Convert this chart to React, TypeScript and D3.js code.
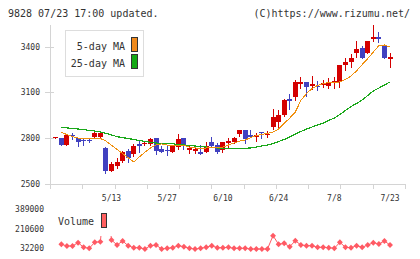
import React, { useEffect, useRef } from 'react';
import * as d3 from 'd3';

// trading days, 4/24 .. 7/23
const dates = [
  '4/24', '4/25', '4/28', '4/30', '5/1', '5/2', '5/7', '5/8', '5/9', '5/12',
  '5/13', '5/14', '5/15', '5/16', '5/19', '5/20', '5/21', '5/22', '5/23', '5/26',
  '5/27', '5/28', '5/29', '5/30', '6/2', '6/3', '6/4', '6/5', '6/6', '6/9',
  '6/10', '6/11', '6/12', '6/13', '6/16', '6/17', '6/18', '6/19', '6/20', '6/23',
  '6/24', '6/25', '6/26', '6/27', '6/30', '7/1', '7/2', '7/3', '7/4', '7/7',
  '7/8', '7/9', '7/10', '7/11', '7/14', '7/15', '7/16', '7/17', '7/18', '7/22',
  '7/23',
];
const dateLabels = ['5/13', '5/27', '6/10', '6/24', '7/8', '7/23'];

const opens = [
  2804, 2801, 2755, 2823, 2801, 2788, 2788, 2810, 2810, 2738,
  2585, 2620, 2652, 2716, 2694, 2760, 2762, 2760, 2803, 2729,
  2725, 2711, 2740, 2799, 2725, 2718, 2711, 2711, 2773, 2755,
  2723, 2771, 2777, 2827, 2853, 2821, 2806, 2840, 2827, 2871,
  2908, 2952, 3056, 3068, 3153, 3168, 3144, 3144, 3148, 3144,
  3163, 3170, 3279, 3297, 3360, 3392, 3355, 3447, 3464, 3405,
  3316,
];
const highs = [
  2806, 2801, 2827, 2834, 2801, 2801, 2797, 2853, 2842, 2744,
  2646, 2668, 2718, 2727, 2762, 2781, 2781, 2799, 2803, 2751,
  2746, 2746, 2827, 2799, 2751, 2755, 2755, 2773, 2806, 2766,
  2777, 2799, 2810, 2853, 2853, 2853, 2832, 2840, 2845, 2989,
  2984, 3056, 3089, 3181, 3198, 3168, 3207, 3174, 3181, 3192,
  3202, 3279, 3323, 3349, 3436, 3405, 3438, 3541, 3497, 3405,
  3355,
];
const lows = [
  2804, 2755, 2755, 2793, 2751, 2757, 2775, 2807, 2808, 2570,
  2585, 2603, 2646, 2646, 2686, 2711, 2755, 2755, 2694, 2707,
  2690, 2711, 2729, 2729, 2701, 2701, 2698, 2707, 2744, 2701,
  2712, 2744, 2771, 2814, 2766, 2806, 2784, 2799, 2810, 2858,
  2858, 2945, 2991, 3050, 3130, 3075, 3122, 3115, 3137, 3130,
  3130, 3137, 3246, 3266, 3333, 3323, 3355, 3438, 3432, 3323,
  3268,
];
const closes = [
  2806, 2755, 2821, 2811, 2777, 2779, 2780, 2832, 2836, 2585,
  2633, 2646, 2707, 2668, 2751, 2751, 2771, 2795, 2718, 2711,
  2716, 2746, 2795, 2755, 2738, 2729, 2698, 2746, 2751, 2707,
  2777, 2784, 2803, 2853, 2793, 2810, 2821, 2836, 2829, 2940,
  2951, 3050, 3045, 3170, 3168, 3137, 3155, 3137, 3159, 3168,
  3174, 3279, 3301, 3327, 3384, 3327, 3438, 3464, 3447, 3323,
  3333,
];
const ma5 = [
  null, 2837, 2824, 2811, 2801, 2798, 2798, 2798, 2798, 2781,
  2753, 2726, 2699, 2672, 2644, 2677, 2709, 2736, 2755, 2762,
  2755, 2749, 2749, 2752, 2742, 2736, 2732, 2736, 2739, 2739,
  2742, 2755, 2768, 2781, 2788, 2804, 2817, 2824, 2831, 2840,
  2860, 2896, 2932, 2971, 3047, 3092, 3125, 3145, 3158, 3164,
  3166, 3168, 3184, 3207, 3240, 3282, 3321, 3364, 3406, 3410,
  3397,
];
const ma25 = [
  null, 2870, 2867, 2863, 2860, 2857, 2850, 2847, 2840, 2832,
  2821, 2810, 2803, 2798, 2791, 2785, 2778, 2773, 2768, 2766,
  2766, 2763, 2759, 2755, 2752, 2749, 2745, 2742, 2739, 2736,
  2734, 2734, 2734, 2734, 2734, 2736, 2742, 2749, 2755, 2765,
  2778, 2791, 2808, 2827, 2844, 2860, 2873, 2886, 2899, 2916,
  2932, 2955, 2981, 3007, 3027, 3050, 3079, 3109, 3128, 3148,
  3168,
];
const volumes = [
  null, 68500, 53100, 53100, 83000, 41300, 32200, 86700, 92100, 600000,
  107600, 62200, 98500, 55800, 37600, 37600, 25800, 55800, 62200, 25800,
  32200, 37600, 55800, 46700, 32200, 25800, 32200, 41300, 55800, 37600,
  37600, 41300, 32200, 32200, 32200, 25800, 25800, 25800, 25800, 146600,
  68500, 77600, 46700, 101200, 62200, 55800, 55800, 41300, 41300, 37600,
  32200, 86700, 41300, 37600, 55800, 41300, 62200, 83000, 71200, 98500,
  62200,
];
const priceTicks = [2500, 2800, 3100, 3400];
const volumeTicks = [32200, 210600, 389000];

const App = () => {
  const svgRef = useRef(null);

  useEffect(() => {
    const W = 420, H = 259;
    const svg = d3.select(svgRef.current)
      .attr('width', W).attr('height', H)
      .html('');
    const font = "'DejaVu Sans Mono', monospace";
    const axisColor = '#d4d4d4';
    const textColor = '#333';
    const up = '#d40000', down = '#4141c0';

    const x = d3.scaleBand().domain(dates).range([53, 392.8]);
    const cx = (d) => x(d) + x.bandwidth() / 2;
    const y = d3.scaleLinear().domain([2500, 3400]).range([184, 46.5]);
    const yv = d3.scaleLinear().domain([32200, 389000]).range([248.3, 209]);

    // header
    svg.append('text').attr('x', 8).attr('y', 17)
      .style('font-family', font).style('font-size', '10px').attr('fill', textColor)
      .text('9828 07/23 17:00 updated.');
    svg.append('text').attr('x', 410).attr('y', 17).attr('text-anchor', 'end')
      .style('font-family', font).style('font-size', '10px').attr('fill', textColor)
      .text('(C)https://www.rizumu.net/');

    // axes
    const ax = svg.append('g').attr('shape-rendering', 'crispEdges');
    ax.append('line').attr('x1', 50.5).attr('x2', 50.5).attr('y1', 25).attr('y2', 189)
      .attr('stroke', axisColor);
    ax.append('line').attr('x1', 45).attr('x2', 405).attr('y1', 184.5).attr('y2', 184.5)
      .attr('stroke', axisColor);
    ax.selectAll('.ytick').data(priceTicks).enter().append('line')
      .attr('x1', 45).attr('x2', 54)
      .attr('y1', d => Math.round(y(d)) + 0.5).attr('y2', d => Math.round(y(d)) + 0.5)
      .attr('stroke', axisColor);
    const gridX = d3.scaleLinear().domain([0, 11]).range([50, 405]);
    ax.selectAll('.xtick').data(d3.range(12)).enter().append('line')
      .attr('x1', d => Math.round(gridX(d)) + 0.5).attr('x2', d => Math.round(gridX(d)) + 0.5)
      .attr('y1', 184).attr('y2', 189)
      .attr('stroke', axisColor);

    svg.selectAll('.ylab').data(priceTicks).enter().append('text')
      .attr('x', 40).attr('y', d => y(d) + 3).attr('text-anchor', 'end')
      .style('font-family', font).style('font-size', '8px').attr('fill', textColor)
      .text(d => d);
    svg.selectAll('.xlab').data(dateLabels).enter().append('text')
      .attr('x', d => cx(d)).attr('y', 201).attr('text-anchor', 'middle')
      .style('font-family', font).style('font-size', '8px').attr('fill', textColor)
      .text(d => d);
    svg.selectAll('.vlab').data(volumeTicks).enter().append('text')
      .attr('x', 44).attr('y', d => yv(d) + 3).attr('text-anchor', 'end')
      .style('font-family', font).style('font-size', '8px').attr('fill', textColor)
      .text(d => d);

    // candles
    const candles = svg.append('g').attr('shape-rendering', 'crispEdges');
    dates.forEach((d, i) => {
      const o = opens[i], c = closes[i];
      const col = c >= o ? up : down;
      const x0 = Math.round(cx(d) - 2.5);
      candles.append('line')
        .attr('x1', x0 + 2.5).attr('x2', x0 + 2.5)
        .attr('y1', Math.round(y(highs[i]))).attr('y2', Math.round(y(lows[i])) + 1)
        .attr('stroke', col);
      const top = Math.round(y(Math.max(o, c)));
      const bot = Math.round(y(Math.min(o, c)));
      candles.append('rect')
        .attr('x', x0).attr('width', 5)
        .attr('y', top).attr('height', Math.max(1, bot - top))
        .attr('fill', col);
    });

    // moving averages
    const maLine = d3.line()
      .defined(d => d != null)
      .x((d, i) => cx(dates[i]))
      .y(d => y(d));
    svg.append('path').datum(ma25).attr('d', maLine)
      .attr('fill', 'none').attr('stroke', '#1aa81a').attr('stroke-width', 1.2)
      .attr('shape-rendering', 'crispEdges');
    svg.append('path').datum(ma5).attr('d', maLine)
      .attr('fill', 'none').attr('stroke', '#f0900f').attr('stroke-width', 1)
      .attr('shape-rendering', 'crispEdges');

    // price legend
    const lg = svg.append('g');
    lg.append('rect').attr('x', 65.5).attr('y', 30.5).attr('width', 78).attr('height', 46)
      .attr('fill', '#fff').attr('stroke', '#ddd');
    [['5-day MA', '#f08a1c', 49.5], ['25-day MA', '#14a814', 66.5]].forEach(([t, c, by]) => {
      lg.append('text').attr('x', 125).attr('y', by).attr('text-anchor', 'end')
        .style('font-family', font).style('font-size', '10px').attr('fill', textColor)
        .text(t);
      lg.append('rect').attr('x', 131.5).attr('y', by - 12).attr('width', 6).attr('height', 14)
        .attr('fill', c).attr('stroke', '#333');
    });

    // volume
    svg.append('clipPath').attr('id', 'vclip')
      .append('rect').attr('x', 45).attr('y', 209).attr('width', 370).attr('height', 50);
    const vg = svg.append('g').attr('clip-path', 'url(#vclip)');
    const vLine = d3.line()
      .defined(d => d != null)
      .x((d, i) => cx(dates[i]))
      .y(d => yv(d));
    vg.append('path').datum(volumes).attr('d', vLine)
      .attr('fill', 'none').attr('stroke', '#ff5a64').attr('stroke-width', 1);
    vg.selectAll('.vpt').data(volumes.map((v, i) => ({ v, d: dates[i] })).filter(p => p.v != null))
      .enter().append('path')
      .attr('d', d3.symbol().type(d3.symbolDiamond2).size(22))
      .attr('transform', p => `translate(${cx(p.d)},${yv(p.v)})`)
      .attr('fill', '#ff5a64');

    svg.append('rect').attr('x', 55).attr('y', 206).attr('width', 57).attr('height', 30)
      .attr('fill', '#fff');
    svg.append('text').attr('x', 58).attr('y', 225)
      .style('font-family', font).style('font-size', '10px').attr('fill', textColor)
      .text('Volume');
    svg.append('rect').attr('x', 101.5).attr('y', 213.5).attr('width', 5).attr('height', 14)
      .attr('fill', '#ff6060').attr('stroke', '#333');
  }, []);

  return <svg ref={svgRef} style={{ position: 'absolute', left: 0, top: 0 }} />;
};

export default App;
